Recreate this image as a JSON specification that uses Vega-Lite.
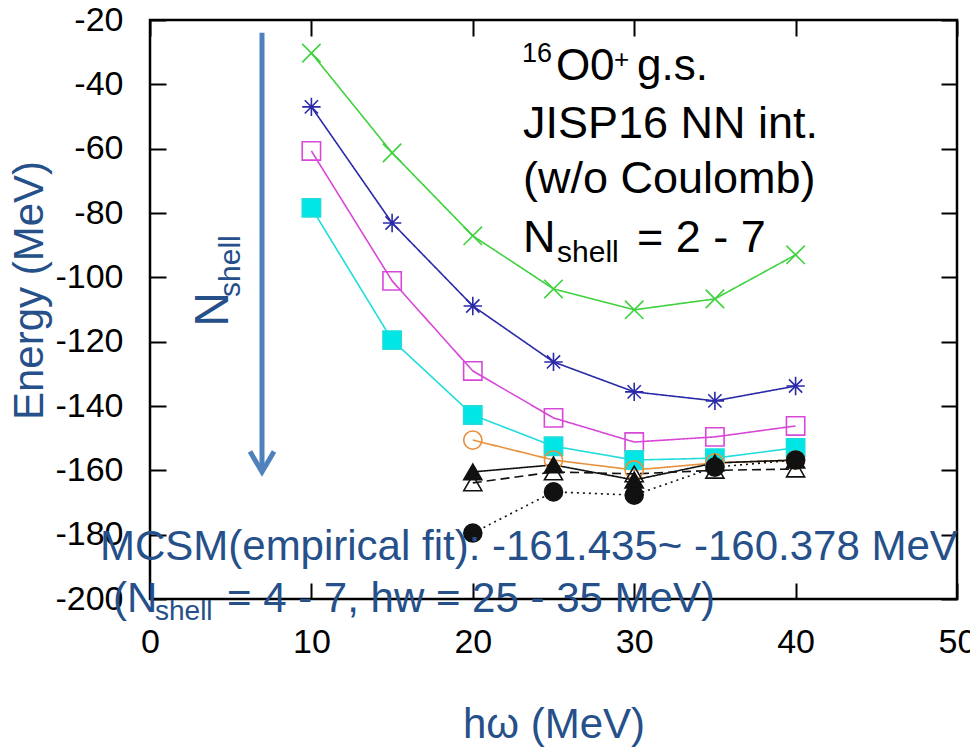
{
  "$schema": "https://vega.github.io/schema/vega-lite/v6.json",
  "width": 807,
  "height": 579,
  "autosize": {"type": "none"},
  "padding": {"left": 150, "top": 20, "right": 13, "bottom": 150},
  "background": "white",
  "config": {
    "view": {"stroke": "black", "strokeWidth": 2.5},
    "font": "Liberation Sans"
  },
  "datasets": {
    "energies": [
      {"series": "N2", "hw": 10, "E": -30.3},
      {"series": "N2", "hw": 15, "E": -61.3},
      {"series": "N2", "hw": 20, "E": -87.1},
      {"series": "N2", "hw": 25, "E": -103.6},
      {"series": "N2", "hw": 30, "E": -110.1},
      {"series": "N2", "hw": 35, "E": -106.7},
      {"series": "N2", "hw": 40, "E": -93.0},
      {"series": "N3", "hw": 10, "E": -47.0},
      {"series": "N3", "hw": 15, "E": -83.1},
      {"series": "N3", "hw": 20, "E": -108.9},
      {"series": "N3", "hw": 25, "E": -126.3},
      {"series": "N3", "hw": 30, "E": -135.6},
      {"series": "N3", "hw": 35, "E": -138.4},
      {"series": "N3", "hw": 40, "E": -133.8},
      {"series": "N4", "hw": 10, "E": -60.7},
      {"series": "N4", "hw": 15, "E": -101.1},
      {"series": "N4", "hw": 20, "E": -129.1},
      {"series": "N4", "hw": 25, "E": -143.7},
      {"series": "N4", "hw": 30, "E": -151.2},
      {"series": "N4", "hw": 35, "E": -149.6},
      {"series": "N4", "hw": 40, "E": -146.2},
      {"series": "N5", "hw": 10, "E": -78.4},
      {"series": "N5", "hw": 15, "E": -119.5},
      {"series": "N5", "hw": 20, "E": -142.8},
      {"series": "N5", "hw": 25, "E": -152.5},
      {"series": "N5", "hw": 30, "E": -156.8},
      {"series": "N5", "hw": 35, "E": -156.2},
      {"series": "N5", "hw": 40, "E": -153.0},
      {"series": "N6", "hw": 20, "E": -150.6},
      {"series": "N6", "hw": 25, "E": -156.8},
      {"series": "N6", "hw": 30, "E": -159.9},
      {"series": "N6", "hw": 35, "E": -157.7},
      {"series": "N6", "hw": 40, "E": -156.8},
      {"series": "N7a", "hw": 20, "E": -160.5},
      {"series": "N7a", "hw": 25, "E": -158.3},
      {"series": "N7a", "hw": 30, "E": -163.0},
      {"series": "N7a", "hw": 35, "E": -157.7},
      {"series": "N7a", "hw": 40, "E": -156.8},
      {"series": "N7b", "hw": 20, "E": -163.9},
      {"series": "N7b", "hw": 25, "E": -160.5},
      {"series": "N7b", "hw": 30, "E": -161.1},
      {"series": "N7b", "hw": 35, "E": -160.0},
      {"series": "N7b", "hw": 40, "E": -159.6},
      {"series": "N7c", "hw": 20, "E": -179.5},
      {"series": "N7c", "hw": 25, "E": -166.7},
      {"series": "N7c", "hw": 30, "E": -167.7},
      {"series": "N7c", "hw": 35, "E": -159.0},
      {"series": "N7c", "hw": 40, "E": -156.8}
    ]
  },
  "resolve": {"axis": {"x": "independent", "y": "independent"}},
  "layer": [
    {
      "data": {"name": "energies"},
      "mark": {"type": "line", "strokeWidth": 1.6},
      "encoding": {
        "x": {
          "field": "hw", "type": "quantitative",
          "scale": {"domain": [0, 50], "nice": false, "zero": false},
          "axis": {
            "orient": "bottom", "values": [0, 10, 20, 30, 40, 50],
            "domain": false, "grid": false,
            "tickSize": -16, "tickWidth": 2, "tickColor": "black",
            "labelFontSize": 34, "labelColor": "black", "labelPadding": 42,
            "labelFlush": false, "labelOverlap": false,
            "title": "hω (MeV)", "titleFontSize": 42, "titleFontWeight": "normal",
            "titleColor": "#255089", "titleBaseline": "alphabetic", "titleY": 138
          }
        },
        "y": {
          "field": "E", "type": "quantitative",
          "scale": {"domain": [-200, -20], "nice": false, "zero": false},
          "axis": {
            "orient": "left", "values": [-200, -180, -160, -140, -120, -100, -80, -60, -40, -20],
            "domain": false, "grid": false,
            "tickSize": -16, "tickWidth": 2, "tickColor": "black",
            "labelFontSize": 34, "labelColor": "black", "labelPadding": 43,
            "labelFlush": false, "labelOverlap": false,
            "labelExpr": "replace(datum.label, '\u2212', '-')",
            "title": "Energy (MeV)", "titleFontSize": 42, "titleFontWeight": "normal",
            "titleColor": "#255089", "titleAngle": 270, "titleBaseline": "alphabetic",
            "titleAlign": "center", "titleX": -108, "titleY": 270
          }
        },
        "color": {
          "field": "series", "type": "nominal", "legend": null,
          "scale": {
            "domain": ["N2", "N3", "N4", "N5", "N6", "N7a", "N7b", "N7c"],
            "range": ["#3ed23e", "#2a2aa8", "#d848d8", "#20dcdc", "#e8903a", "#111111", "#111111", "#111111"]
          }
        },
        "strokeDash": {
          "field": "series", "type": "nominal", "legend": null,
          "scale": {
            "domain": ["N2", "N3", "N4", "N5", "N6", "N7a", "N7b", "N7c"],
            "range": [[1, 0], [1, 0], [1, 0], [1, 0], [1, 0], [1, 0], [9, 5], [2, 4]]
          }
        }
      }
    },
    {
      "data": {"name": "energies"},
      "mark": {"type": "point", "strokeWidth": 1.6, "opacity": 1},
      "encoding": {
        "x": {
          "field": "hw", "type": "quantitative",
          "axis": {
            "orient": "top", "values": [0, 10, 20, 30, 40, 50], "labels": false,
            "domain": false, "grid": false, "title": null,
            "tickSize": -16, "tickWidth": 2, "tickColor": "black"
          }
        },
        "y": {
          "field": "E", "type": "quantitative",
          "axis": {
            "orient": "right", "values": [-200, -180, -160, -140, -120, -100, -80, -60, -40, -20],
            "labels": false, "domain": false, "grid": false, "title": null,
            "tickSize": -16, "tickWidth": 2, "tickColor": "black"
          }
        },
        "shape": {
          "field": "series", "type": "nominal", "legend": null,
          "scale": {
            "domain": ["N2", "N3", "N4", "N5", "N6", "N7a", "N7b", "N7c"],
            "range": [
              "M-1,-1L1,1M-1,1L1,-1",
              "M-1,0L1,0M0,-1L0,1M-0.72,-0.72L0.72,0.72M-0.72,0.72L0.72,-0.72",
              "square", "square", "circle", "triangle-up", "triangle-up", "circle"
            ]
          }
        },
        "stroke": {
          "field": "series", "type": "nominal", "legend": null,
          "scale": {
            "domain": ["N2", "N3", "N4", "N5", "N6", "N7a", "N7b", "N7c"],
            "range": ["#3ed23e", "#2a2aa8", "#d848d8", "#20dcdc", "#e8903a", "#111111", "#111111", "#111111"]
          }
        },
        "fill": {
          "field": "series", "type": "nominal", "legend": null,
          "scale": {
            "domain": ["N2", "N3", "N4", "N5", "N6", "N7a", "N7b", "N7c"],
            "range": ["transparent", "transparent", "transparent", "#00e5e5", "transparent", "#111111", "transparent", "#111111"]
          }
        },
        "size": {
          "field": "series", "type": "nominal", "legend": null,
          "scale": {
            "domain": ["N2", "N3", "N4", "N5", "N6", "N7a", "N7b", "N7c"],
            "range": [340, 324, 324, 300, 289, 330, 330, 320]
          }
        }
      }
    },
    {
      "data": {"values": [{"part": "shaft"}]},
      "mark": {"type": "rule", "color": "#4f81bd", "strokeWidth": 5},
      "encoding": {
        "x": {"datum": 6.94, "axis": null},
        "y": {"datum": -24.0, "axis": null},
        "y2": {"datum": -160.3}
      }
    },
    {
      "data": {"values": [{"part": "head"}]},
      "mark": {"type": "point", "shape": "M-1,-1.7L0,0L1,-1.7", "size": 576, "filled": false, "stroke": "#4f81bd", "strokeWidth": 5, "opacity": 1},
      "encoding": {
        "x": {"datum": 6.94, "axis": null},
        "y": {"datum": -160.5, "axis": null}
      }
    },
    {
      "data": {"values": [{"t": "N"}]},
      "mark": {"type": "text", "align": "left", "baseline": "alphabetic", "angle": 270, "fontSize": 48, "color": "#255089"},
      "encoding": {"text": {"field": "t"}, "x": {"datum": 4.83, "axis": null}, "y": {"datum": -115.4, "axis": null}}
    },
    {
      "data": {"values": [{"t": "shell"}]},
      "mark": {"type": "text", "align": "left", "baseline": "alphabetic", "angle": 270, "fontSize": 30, "color": "#255089"},
      "encoding": {"text": {"field": "t"}, "x": {"datum": 5.58, "axis": null}, "y": {"datum": -106.1, "axis": null}}
    },
    {
      "data": {"values": [{"t": "16"}]},
      "mark": {"type": "text", "align": "left", "baseline": "alphabetic", "fontSize": 27, "color": "black"},
      "encoding": {"text": {"field": "t"}, "x": {"datum": 23.05, "axis": null}, "y": {"datum": -33.1, "axis": null}}
    },
    {
      "data": {"values": [{"t": "O"}]},
      "mark": {"type": "text", "align": "left", "baseline": "alphabetic", "fontSize": 44, "color": "black"},
      "encoding": {"text": {"field": "t"}, "x": {"datum": 25.15, "axis": null}, "y": {"datum": -38.65, "axis": null}}
    },
    {
      "data": {"values": [{"t": "0"}]},
      "mark": {"type": "text", "align": "left", "baseline": "alphabetic", "fontSize": 44, "color": "black"},
      "encoding": {"text": {"field": "t"}, "x": {"datum": 27.26, "axis": null}, "y": {"datum": -38.65, "axis": null}}
    },
    {
      "data": {"values": [{"t": "+"}]},
      "mark": {"type": "text", "align": "left", "baseline": "alphabetic", "fontSize": 26, "color": "black"},
      "encoding": {"text": {"field": "t"}, "x": {"datum": 28.75, "axis": null}, "y": {"datum": -34.9, "axis": null}}
    },
    {
      "data": {"values": [{"t": "g.s."}]},
      "mark": {"type": "text", "align": "left", "baseline": "alphabetic", "fontSize": 44, "color": "black"},
      "encoding": {"text": {"field": "t"}, "x": {"datum": 30.17, "axis": null}, "y": {"datum": -38.65, "axis": null}}
    },
    {
      "data": {"values": [{"t": "JISP16 NN int."}]},
      "mark": {"type": "text", "align": "left", "baseline": "alphabetic", "fontSize": 45, "color": "black"},
      "encoding": {"text": {"field": "t"}, "x": {"datum": 23.11, "axis": null}, "y": {"datum": -56.68, "axis": null}}
    },
    {
      "data": {"values": [{"t": "(w/o Coulomb)"}]},
      "mark": {"type": "text", "align": "left", "baseline": "alphabetic", "fontSize": 45, "color": "black"},
      "encoding": {"text": {"field": "t"}, "x": {"datum": 23.11, "axis": null}, "y": {"datum": -73.78, "axis": null}}
    },
    {
      "data": {"values": [{"t": "N"}]},
      "mark": {"type": "text", "align": "left", "baseline": "alphabetic", "fontSize": 45, "color": "black"},
      "encoding": {"text": {"field": "t"}, "x": {"datum": 23.11, "axis": null}, "y": {"datum": -92.12, "axis": null}}
    },
    {
      "data": {"values": [{"t": "shell"}]},
      "mark": {"type": "text", "align": "left", "baseline": "alphabetic", "fontSize": 30, "color": "black"},
      "encoding": {"text": {"field": "t"}, "x": {"datum": 25.22, "axis": null}, "y": {"datum": -95.23, "axis": null}}
    },
    {
      "data": {"values": [{"t": "= 2 - 7"}]},
      "mark": {"type": "text", "align": "left", "baseline": "alphabetic", "fontSize": 45, "color": "black"},
      "encoding": {"text": {"field": "t"}, "x": {"datum": 30.17, "axis": null}, "y": {"datum": -92.12, "axis": null}}
    },
    {
      "data": {"values": [{"t": "MCSM(empirical fit): -161.435~ -160.378 MeV"}]},
      "mark": {"type": "text", "align": "left", "baseline": "alphabetic", "fontSize": 42, "color": "#255089"},
      "encoding": {"text": {"field": "t"}, "x": {"datum": -3.1, "axis": null}, "y": {"datum": -187.86, "axis": null}}
    },
    {
      "data": {"values": [{"t": "(N"}]},
      "mark": {"type": "text", "align": "left", "baseline": "alphabetic", "fontSize": 42, "color": "#255089"},
      "encoding": {"text": {"field": "t"}, "x": {"datum": -2.29, "axis": null}, "y": {"datum": -204.02, "axis": null}}
    },
    {
      "data": {"values": [{"t": "shell"}]},
      "mark": {"type": "text", "align": "left", "baseline": "alphabetic", "fontSize": 28, "color": "#255089"},
      "encoding": {"text": {"field": "t"}, "x": {"datum": 0.31, "axis": null}, "y": {"datum": -206.51, "axis": null}}
    },
    {
      "data": {"values": [{"t": "= 4 - 7, hw = 25 - 35 MeV)"}]},
      "mark": {"type": "text", "align": "left", "baseline": "alphabetic", "fontSize": 42, "color": "#255089"},
      "encoding": {"text": {"field": "t"}, "x": {"datum": 4.77, "axis": null}, "y": {"datum": -204.02, "axis": null}}
    }
  ]
}
